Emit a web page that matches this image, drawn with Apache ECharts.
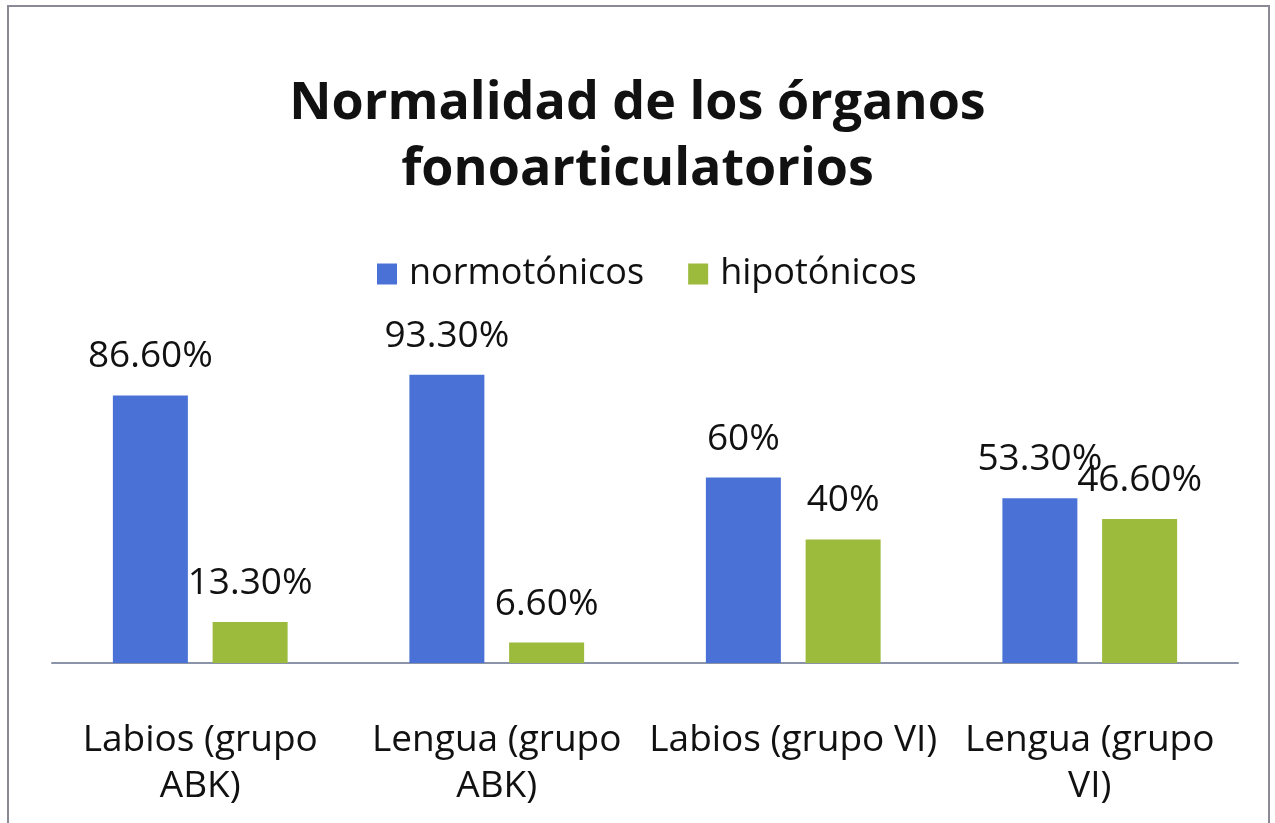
<!DOCTYPE html>
<html><head><meta charset="utf-8">
<script src="https://cdn.jsdelivr.net/npm/echarts@6/dist/echarts.min.js"></script>
<style>html,body{margin:0;padding:0;background:#fff}#c{width:1275px;height:823px}</style>
</head><body><div id="c"></div>
<script>
const categories = ['Labios (grupo\nABK)', 'Lengua (grupo\nABK)', 'Labios (grupo VI)', 'Lengua (grupo\nVI)'];
const normotonicos = [86.6, 93.3, 60, 53.3];
const hipotonicos = [13.3, 6.6, 40, 46.6];
const normLabels = ['86.60%', '93.30%', '60%', '53.30%'];
const hipoLabels = ['13.30%', '6.60%', '40%', '46.60%'];
const FONT = 'Open Sans';
const chart = echarts.init(document.getElementById('c'));
chart.setOption({
  animation: false,
  backgroundColor: '#fff',
  graphic: [{type:'rect', shape:{x:8,y:6,width:1261,height:830}, style:{fill:'none', stroke:'#8a8a96', lineWidth:2}}],
  title: {
    text: 'Normalidad de los órganos\nfonoarticulatorios',
    left: 'center', top: 66,
    textStyle: {fontFamily: FONT, fontWeight: 'bold', fontSize: 52, lineHeight: 66, color: '#111'}
  },
  legend: {
    top: 251, left: 372, itemWidth: 20, itemHeight: 21, itemGap: 44, icon: 'rect',
    textStyle: {fontFamily: FONT, fontSize: 36, color: '#111', padding: [0, 0, 0, 7]}
  },
  grid: {left: 52, right: 37, top: 354, bottom: 160},
  xAxis: {
    type: 'category', data: categories,
    axisLine: {lineStyle: {color: '#8a94a6', width: 2}},
    axisTick: {show: false},
    axisLabel: {fontFamily: FONT, fontSize: 37, color: '#111', margin: 54, lineHeight: 46, interval: 0}
  },
  yAxis: {type: 'value', min: 0, max: 100, show: false, splitLine: {show: false}},
  series: [
    {name: 'normotónicos', type: 'bar', data: normotonicos, barWidth: 75, barGap: '33%',
     itemStyle: {color: '#4a72d6'},
     label: {show: true, position: 'top', distance: 20, fontFamily: FONT, fontSize: 37, color: '#111',
       formatter: p => normLabels[p.dataIndex]}},
    {name: 'hipotónicos', type: 'bar', data: hipotonicos, barWidth: 75,
     itemStyle: {color: '#9cbb3c'},
     label: {show: true, position: 'top', distance: 20, fontFamily: FONT, fontSize: 37, color: '#111',
       formatter: p => hipoLabels[p.dataIndex]}}
  ]
});
</script></body></html>
